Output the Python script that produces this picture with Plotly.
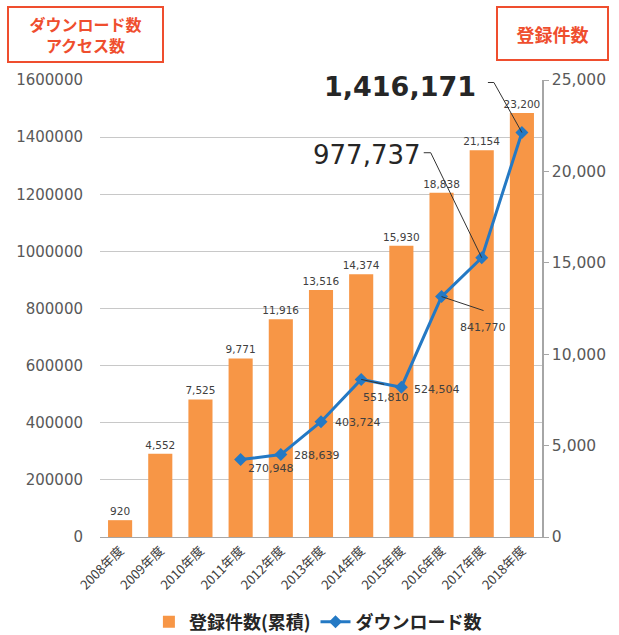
import plotly.graph_objects as go

years = ["2008年度", "2009年度", "2010年度", "2011年度", "2012年度", "2013年度",
         "2014年度", "2015年度", "2016年度", "2017年度", "2018年度"]
registrations = [920, 4552, 7525, 9771, 11916, 13516, 14374, 15930, 18838, 21154, 23200]
dl_years = ["2011年度", "2012年度", "2013年度", "2014年度", "2015年度", "2016年度", "2017年度", "2018年度"]
downloads = [270948, 288639, 403724, 551810, 524504, 841770, 977737, 1416171]

left_ticks = [0, 200000, 400000, 600000, 800000, 1000000, 1200000, 1400000, 1600000]
right_ticks = [0, 5000, 10000, 15000, 20000, 25000]

ORANGE = "#F79646"
BLUE = "#2479C4"
RED = "#EF4E2E"
NUM_FONT = "DejaVu Sans"
JP_FONT = "Noto Sans CJK JP"

fig = go.Figure()
fig.add_trace(go.Bar(
    x=years, y=registrations, name="登録件数(累積)", yaxis="y",
    marker=dict(color=ORANGE, line=dict(width=0)), width=0.6,
    text=[f"{v:,}" for v in registrations], textposition="outside", constraintext="none",
    textfont=dict(family=NUM_FONT, size=10.5, color="#404040"), cliponaxis=False,
))
fig.add_trace(go.Scatter(
    x=dl_years, y=downloads, name="ダウンロード数", yaxis="y2", mode="lines+markers",
    line=dict(color=BLUE, width=3), marker=dict(symbol="diamond", size=10, color=BLUE),
))

# label offsets in pixels from each point (style only): text centre shift and leader path
label_style = [
    dict(dx=30, dy=-9),
    dict(dx=36, dy=-1),
    dict(dx=37, dy=-1),
    dict(dx=25, dy=-18, path="M0,0 L23,-5"),
    dict(dx=36, dy=-2),
    dict(dx=41, dy=-31, path="M0,0 L42,-14"),
    dict(dx=-115, dy=103, size=26, path="M0,0 L-51,105 L-58,105"),
    dict(dx=-122, dy=46, size=27, bold=True, path="M0,0 L-28,50 L-34,50"),
]
annotations = []
shapes = []
for xv, yv, st in zip(dl_years, downloads, label_style):
    size = st.get("size", 11)
    annotations.append(dict(
        x=xv, y=yv, xref="x", yref="y2", text=f"{yv:,}", showarrow=False,
        xshift=st["dx"], yshift=st["dy"],
        font=dict(family=NUM_FONT, size=size, color="#262626" if size > 20 else "#404040",
                  weight="bold" if st.get("bold") else "normal"),
    ))
    if "path" in st:
        shapes.append(dict(
            type="path", xref="x", yref="y2", xsizemode="pixel", ysizemode="pixel",
            xanchor=xv, yanchor=yv, path=st["path"],
            line=dict(color="#333333", width=1), layer="above",
        ))

annotations.append(dict(
    x=-0.033, y=1.0996, xref="paper", yref="paper", xanchor="center", yanchor="middle",
    showarrow=False,
    text="ダウンロード数<br>アクセス数", font=dict(family=JP_FONT, size=16, color=RED, weight="bold"),
    bordercolor=RED, borderwidth=2, borderpad=2, bgcolor="white", width=149, height=49,
))
annotations.append(dict(
    x=1.0238, y=1.1018, xref="paper", yref="paper", xanchor="center", yanchor="middle",
    showarrow=False,
    text="登録件数", font=dict(family=JP_FONT, size=18, color=RED, weight="bold"),
    bordercolor=RED, borderwidth=2, borderpad=2, bgcolor="white", width=105, height=47,
))

fig.update_layout(
    width=619, height=635,
    margin=dict(l=100, r=77, t=80, b=98, autoexpand=False),
    paper_bgcolor="white", plot_bgcolor="white",
    showlegend=True,
    legend=dict(orientation="h", x=0.493, xanchor="center", y=-0.186, yanchor="middle",
                font=dict(family=JP_FONT, size=18, color="#262626", weight="bold"),
                itemwidth=30),
    xaxis=dict(type="category", categoryorder="array", categoryarray=years,
               range=[-0.5, len(years) - 0.5], autorange=False,
               tickangle=-45, tickfont=dict(family=JP_FONT, size=13, color="#404040"),
               showline=True, linecolor="#A6A6A6", linewidth=1, ticks="", showgrid=False),
    yaxis=dict(side="right", range=[0, 25000], tickvals=right_ticks,
               ticktext=[f"{v:,}" for v in right_ticks],
               tickfont=dict(family=NUM_FONT, size=15.5, color="#595959"),
               showline=True, linecolor="#A6A6A6", linewidth=1.5, ticks="outside",
               ticklen=5, tickcolor="#A6A6A6", showgrid=False, zeroline=False),
    yaxis2=dict(side="left", overlaying="y", range=[0, 1600000], tickvals=left_ticks,
                ticktext=[str(v) for v in left_ticks], ticklabelstandoff=16,
                tickfont=dict(family=NUM_FONT, size=15, color="#595959"),
                showgrid=True, gridcolor="#C8C8C8", gridwidth=1, zeroline=False,
                showline=False),
    annotations=annotations,
    shapes=shapes,
)

fig.write_html("out.html", config={"displayModeBar": False},
               post_script="document.body.style.margin='0';")
